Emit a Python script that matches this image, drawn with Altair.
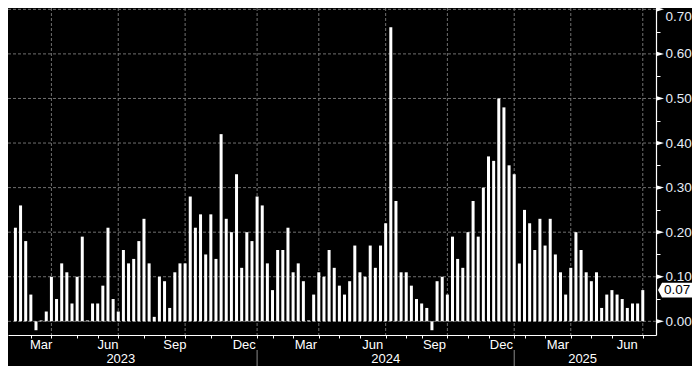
import altair as alt
import pandas as pd

# ---- data ----
values = [
    0.21, 0.26, 0.18, 0.06, -0.02, 0.002, 0.022, 0.10, 0.05, 0.13,
    0.11, 0.04, 0.10, 0.19, 0.002, 0.04, 0.04, 0.08, 0.21, 0.05,
    0.022, 0.16, 0.13, 0.14, 0.18, 0.23, 0.13, 0.01, 0.10, 0.09,
    0.03, 0.11, 0.13, 0.13, 0.28, 0.21, 0.24, 0.15, 0.24, 0.14,
    0.42, 0.23, 0.20, 0.33, 0.12, 0.20, 0.18, 0.28, 0.26, 0.13,
    0.07, 0.16, 0.16, 0.21, 0.11, 0.13, 0.09, 0.002, 0.06, 0.11,
    0.10, 0.16, 0.12, 0.08, 0.06, 0.09, 0.17, 0.11, 0.10, 0.17,
    0.12, 0.17, 0.22, 0.66, 0.27, 0.11, 0.11, 0.08, 0.05, 0.04,
    0.03, -0.02, 0.09, 0.10, 0.06, 0.19, 0.14, 0.12, 0.20, 0.27,
    0.19, 0.30, 0.37, 0.36, 0.50, 0.48, 0.35, 0.33, 0.13, 0.25,
    0.22, 0.16, 0.23, 0.17, 0.23, 0.15, 0.11, 0.06, 0.12, 0.20,
    0.16, 0.11, 0.09, 0.11, 0.03, 0.06, 0.07, 0.06, 0.05, 0.03,
    0.04, 0.04, 0.07,
]
bar_index = list(range(1, len(values) + 1))

# first bar of each month (bar index) and the month it starts
tick_bars = [4, 8, 13, 17, 21, 26, 30, 34, 39, 43, 48, 51, 55, 60, 64, 68,
             73, 77, 80, 85, 89, 93, 98, 100, 104, 109, 113, 117, 123]
tick_months = ["Mar", "Apr", "May", "Jun", "Jul", "Aug", "Sep", "Oct", "Nov",
               "Dec", "Jan", "Feb", "Mar", "Apr", "May", "Jun", "Jul", "Aug",
               "Sep", "Oct", "Nov", "Dec", "Jan", "Feb", "Mar", "Apr", "May",
               "Jun", "Jul"]
label_months = ["Mar", "Jun", "Sep", "Dec"]
grid_months = ["Jan", "Apr", "Jul", "Oct"]

years = ["2023", "2024", "2025"]
year_label_pos = [21.5, 73.0, 111.3]

y_major = [0.0, 0.1, 0.2, 0.3, 0.4, 0.5, 0.6, 0.7]
y_ticks = [round(i * 0.05, 2) for i in range(15)]

# ---- layout ----
W, H = 648, 327
x_domain = [0.53, 124.6]
y_domain = [-0.0307, 0.703]
FONT = "Liberation Sans"
GRID = "#707070"

bars_df = pd.DataFrame({"x": bar_index, "y": values})

month_lbl = []
for i, m in enumerate(tick_months):
    if m in label_months and i + 1 < len(tick_bars):
        month_lbl.append({"x": (tick_bars[i] + tick_bars[i + 1]) / 2, "t": m})
month_df = pd.DataFrame(month_lbl)
vgrid_df = pd.DataFrame({"x": [b for b, m in zip(tick_bars, tick_months) if m in grid_months]})
sep_df = pd.DataFrame({"x": [b for b, m in zip(tick_bars, tick_months) if m == "Jan"]})
year_df = pd.DataFrame({"x": year_label_pos, "t": years})
hgrid_df = pd.DataFrame({"y": y_major})
last_df = pd.DataFrame({"y": [values[-1]], "t": [f"{values[-1]:.2f}"]})

x_scale = alt.Scale(domain=x_domain, nice=False, zero=False)
y_scale = alt.Scale(domain=y_domain, nice=False, zero=False)

x_axis = alt.Axis(values=tick_bars, labels=False, tickSize=3, tickColor="white",
                  domainColor="white", domainWidth=1.2, grid=False, title=None)
y_axis = alt.Axis(orient="right", values=y_ticks, tickSize=4, tickColor="white",
                  domainColor="white", domainWidth=1.2, grid=False, title=None,
                  labelExpr="round(datum.value*100) % 10 == 0 ? format(datum.value, '.2f') : ''",
                  labelPadding=5, labelFont=FONT, labelFontSize=13.5, labelColor="#e6edf7",
                  labelBaseline={"condition": {"test": "datum.value > 0.69", "value": "top"},
                                 "value": "middle"})


def X(field="x"):
    return alt.X(f"{field}:Q", scale=x_scale, axis=x_axis)


def Y(field="y"):
    return alt.Y(f"{field}:Q", scale=y_scale, axis=y_axis)


hgrid = alt.Chart(hgrid_df).mark_rule(color=GRID, strokeDash=[3, 2], strokeWidth=1).encode(y=Y())
vgrid = alt.Chart(vgrid_df).mark_rule(color=GRID, strokeDash=[3, 2], strokeWidth=1).encode(x=X())
bars = alt.Chart(bars_df).mark_bar(color="white", size=3).encode(x=X(), y=Y())

tri = alt.Chart(hgrid_df).mark_point(
    shape="M -1 -0.6 L 1 0 L -1 0.6 Z", filled=True, color="white", size=64, opacity=1
).encode(y=Y(), x=alt.value(W + 4))

months = alt.Chart(month_df).mark_text(
    font=FONT, fontSize=13, color="white", baseline="middle", align="center"
).encode(x=X(), y=alt.value(H + 10), text="t:N")

year_txt = alt.Chart(year_df).mark_text(
    font=FONT, fontSize=13, color="white", baseline="middle", align="center"
).encode(x=X(), y=alt.value(H + 24), text="t:N")

seps = alt.Chart(sep_df).mark_rule(color="#8a8a8a", strokeWidth=1).encode(
    x=X(), y=alt.value(H + 15), y2=alt.value(H + 31)
)

tag = alt.Chart(last_df).mark_point(
    shape="M -1 0 L -0.765 -0.44 L 1 -0.44 L 1 0.44 L -0.765 0.44 Z",
    filled=True, color="white", size=1156, opacity=1
).encode(y=Y(), x=alt.value(W + 19))

tag_txt = alt.Chart(last_df).mark_text(
    font=FONT, fontSize=13.5, color="black", align="left", baseline="middle"
).encode(y=Y(), x=alt.value(W + 8), text="t:N")

chart = alt.layer(hgrid, vgrid, bars, tri, months, year_txt, seps, tag, tag_txt).properties(
    width=W, height=H,
    autosize=alt.AutoSizeParams(type="none"),
    padding={"left": 0, "top": 0, "right": 36, "bottom": 31},
    background="black",
).configure_view(stroke=None)

chart.save("out.html", embed_options={"renderer": "svg", "actions": False})
